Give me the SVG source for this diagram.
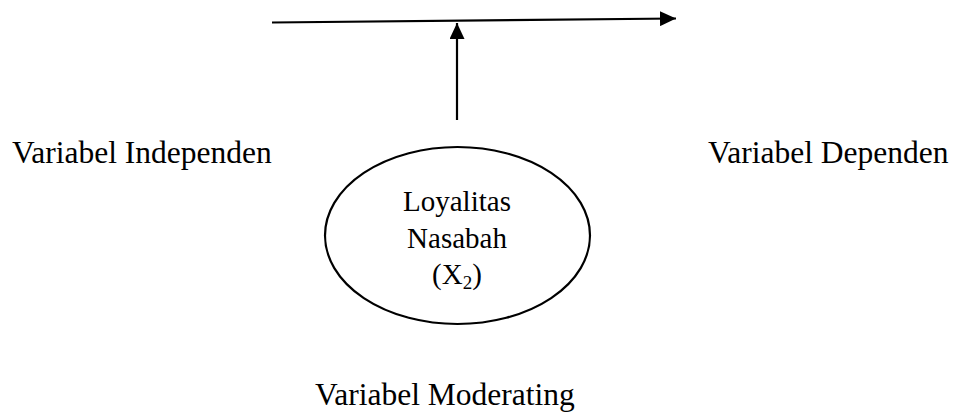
<svg xmlns="http://www.w3.org/2000/svg" width="956" height="412" viewBox="0 0 956 412">
<style>
.t{font-family:"Liberation Serif","Times New Roman",serif;fill:#000}
.lbl{font-size:31.5px}
.in{font-size:29px;text-anchor:middle}
.c{stroke:#000;stroke-width:2.2;fill:none}
</style>
<defs>
<marker id="ah" markerUnits="userSpaceOnUse" markerWidth="16" markerHeight="15" viewBox="0 0 16 15" refX="16" refY="7.5" orient="auto">
<path d="M0,0 L16,7.5 L0,15 Z" fill="#000"/>
</marker>
</defs>
<rect width="956" height="412" fill="#fff"/>
<g id="connectors">
<line class="c" x1="272" y1="22.5" x2="676" y2="18.5" marker-end="url(#ah)"/>
<line class="c" x1="457" y1="120" x2="457" y2="23" marker-end="url(#ah)"/>
</g>
<g id="independen"><text class="t lbl" x="12" y="163">Variabel Independen</text></g>
<g id="dependen"><text class="t lbl" x="708" y="163">Variabel Dependen</text></g>
<g id="moderating-node">
<ellipse class="c" cx="457.5" cy="235.5" rx="132.5" ry="88.5"/>
<text class="t in" x="457" y="211">Loyalitas</text>
<text class="t in" x="457" y="248">Nasabah</text>
<text class="t in" x="457" y="284">(X<tspan font-size="19" dy="5">2</tspan><tspan dy="-5">)</tspan></text>
</g>
<g id="moderating"><text class="t lbl" x="315" y="405">Variabel Moderating</text></g>
</svg>
